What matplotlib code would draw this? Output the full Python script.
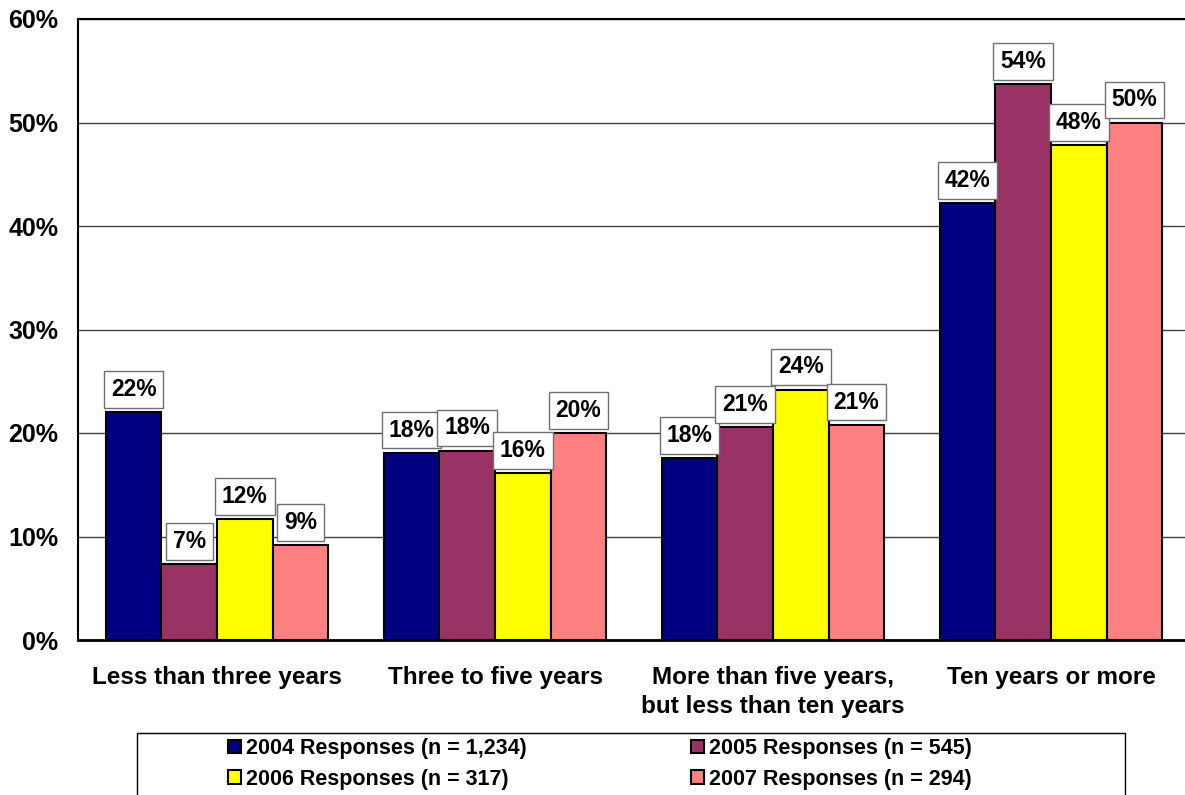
import numpy as np
import matplotlib
matplotlib.use("Agg")
import matplotlib.pyplot as plt
from matplotlib.patches import Rectangle

plt.rcParams['font.family'] = ['Liberation Sans', 'DejaVu Sans']
plt.rcParams['font.weight'] = 'bold'

categories = ["Less than three years", "Three to five years",
              "More than five years,\nbut less than ten years", "Ten years or more"]
series_names = ["2004 Responses (n = 1,234)", "2005 Responses (n = 545)",
                "2006 Responses (n = 317)", "2007 Responses (n = 294)"]
colors = ["#000080", "#993366", "#FFFF00", "#FF8080"]

# percent of respondents per survey year
v2004 = [22.0, 18.1, 17.6, 42.2]
v2005 = [7.3, 18.3, 20.6, 53.7]
v2006 = [11.7, 16.1, 24.2, 47.8]
v2007 = [9.2, 20.0, 20.8, 50.0]
series = [v2004, v2005, v2006, v2007]

fig = plt.figure(figsize=(11.85, 7.95), dpi=100)
ax = fig.add_axes([78 / 1185, 155 / 795, 1112 / 1185, 621 / 795])

x = np.arange(len(categories))
width = 0.2
bars = []
for i, (vals, name, c) in enumerate(zip(series, series_names, colors)):
    pos = x + (i - 1.5) * width
    b = ax.bar(pos, vals, width, color=c, edgecolor='black', linewidth=1.5,
               label=name, zorder=3)
    bars.append(b)
    for px, v in zip(pos, vals):
        ax.annotate(f"{v:.0f}%", (px, v), xytext=(0, 8), textcoords='offset points',
                    ha='center', va='bottom', fontsize=16.5, fontweight='bold',
                    bbox=dict(boxstyle='square,pad=0.3', fc='white', ec='#707070', lw=1),
                    zorder=4)

ax.set_xlim(-0.5, 3.5)
ax.set_ylim(0, 60)
ax.set_yticks(np.arange(0, 61, 10))
ax.set_yticklabels([f"{t}%" for t in range(0, 61, 10)])
ax.yaxis.grid(True, color='#404040', linewidth=1)
ax.set_axisbelow(True)
ax.set_xticks(x)
ax.set_xticklabels(categories, linespacing=1.3)
ax.tick_params(axis='y', length=0, pad=14, labelsize=18)
ax.tick_params(axis='x', length=0, pad=19, labelsize=17.5)
for s in ['left', 'top']:
    ax.spines[s].set_linewidth(1.5)
ax.spines['bottom'].set_linewidth(2)
ax.spines['right'].set_visible(False)

# legend frame, running off the bottom edge
fig.patches.append(Rectangle((137 / 1185, -0.02), 988 / 1185, 0.02 + 62 / 795,
                             transform=fig.transFigure, fill=False,
                             edgecolor='black', linewidth=1))
# two columns filled row by row
order = [0, 2, 1, 3]
fig.legend([bars[k] for k in order], [series_names[k] for k in order],
           loc='upper left', ncol=2, frameon=False,
           bbox_to_anchor=(228 / 1185, 1 - 738 / 795), borderaxespad=0, borderpad=0,
           prop={'size': 15.5, 'weight': 'bold'}, handlelength=0.6, handleheight=0.6,
           handletextpad=0.25, columnspacing=7.6, labelspacing=0.45)

fig.savefig("out.png", dpi=100)
